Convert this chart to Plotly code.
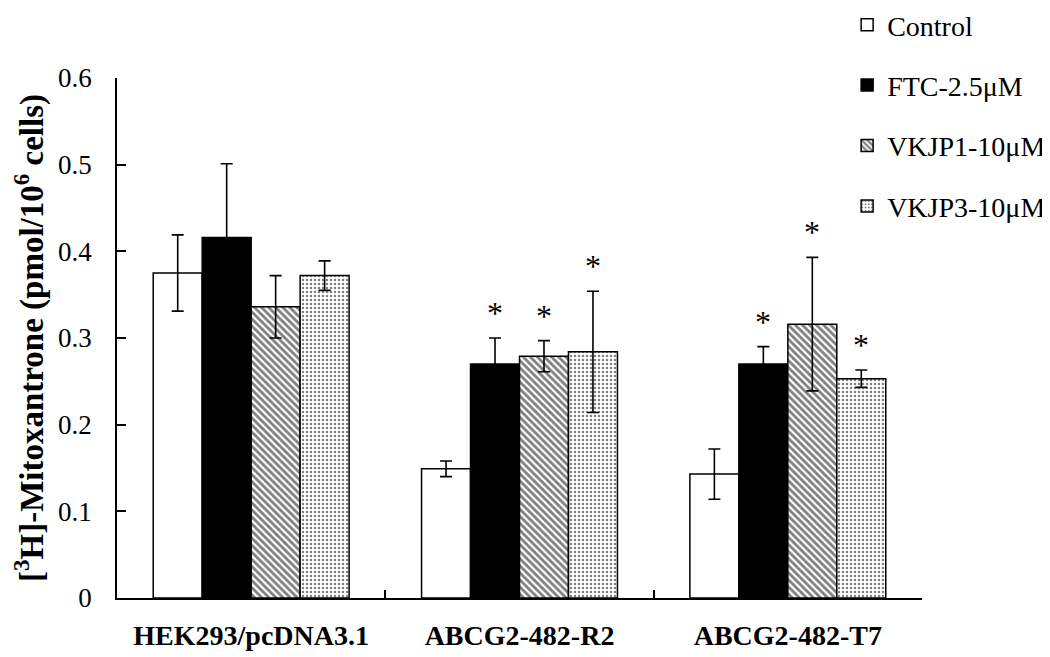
import plotly.graph_objects as go

categories = ["HEK293/pcDNA3.1", "ABCG2-482-R2", "ABCG2-482-T7"]
series_names = ["Control", "FTC-2.5μM", "VKJP1-10μM", "VKJP3-10μM"]

control = [0.375, 0.149, 0.143]
control_err = [0.044, 0.009, 0.029]
ftc = [0.416, 0.270, 0.270]
ftc_err = [0.085, 0.030, 0.020]
vkjp1 = [0.336, 0.279, 0.316]
vkjp1_err = [0.036, 0.018, 0.077]
vkjp3 = [0.372, 0.284, 0.253]
vkjp3_err = [0.017, 0.070, 0.010]

# significance markers (1 = asterisk shown)
sig_control = [0, 0, 0]
sig_ftc = [0, 1, 1]
sig_vkjp1 = [0, 1, 1]
sig_vkjp3 = [0, 1, 1]

y_ticks = [0, 0.1, 0.2, 0.3, 0.4, 0.5, 0.6]
y_tick_labels = ["0", "0.1", "0.2", "0.3", "0.4", "0.5", "0.6"]

values = [control, ftc, vkjp1, vkjp3]
errors = [control_err, ftc_err, vkjp1_err, vkjp3_err]
sigs = [sig_control, sig_ftc, sig_vkjp1, sig_vkjp3]

serif = "Liberation Serif"

patterns = [
    dict(shape=""),
    dict(shape=""),
    dict(shape="\\", fgcolor="black", bgcolor="white", size=5, solidity=0.55),
    dict(shape=".", fgcolor="black", bgcolor="white", size=4, solidity=0.3),
]
colors = ["white", "black", "white", "white"]

fig = go.Figure()
for i, name in enumerate(series_names):
    fig.add_trace(go.Bar(
        x=categories, y=values[i], name=name,
        legendgroup=name,
        marker=dict(color=colors[i], line=dict(color="black", width=1.5),
                    pattern=patterns[i]),
        error_y=dict(type="data", array=errors[i], visible=True,
                     color="black", thickness=1.6, width=6),
    ))

bargap = 0.27
n = len(series_names)
w = (1 - bargap) / n
annotations = []
for i in range(n):
    for j in range(len(categories)):
        if sigs[i][j]:
            annotations.append(dict(
                x=j + (i - (n - 1) / 2) * w, y=values[i][j] + errors[i][j],
                xref="x", yref="y", text="*", showarrow=False,
                yanchor="bottom", yshift=5,
                font=dict(family=serif, size=32, color="black"),
            ))

# the page body adds an 8px offset; figure is sized to fill the rest of the window
fig.update_layout(
    width=1042, height=649,
    margin=dict(l=109, r=128, t=70, b=59, autoexpand=False),
    paper_bgcolor="white", plot_bgcolor="white",
    barmode="group", bargap=bargap, bargroupgap=0,
    font=dict(family=serif, color="black"),
    showlegend=True,
    legend=dict(x=0.907, y=1.15, xanchor="left", yanchor="top",
                font=dict(family=serif, size=28, color="black"),
                tracegroupgap=21, bgcolor="rgba(0,0,0,0)"),
    annotations=annotations,
)
fig.update_xaxes(
    type="category", showline=True, linecolor="black", linewidth=1.5,
    ticks="inside", tickson="boundaries", ticklen=8, tickcolor="black",
    tickwidth=1.5, showgrid=False,
    tickfont=dict(family=serif, size=28, color="black"),
    ticklabelstandoff=12,
    tickvals=categories,
    ticktext=[f"<b>{c}</b>" for c in categories],
)
fig.update_yaxes(
    range=[0, 0.6], tickvals=y_ticks, ticktext=y_tick_labels,
    showline=True, linecolor="black", linewidth=1.5,
    ticks="inside", ticklen=9, tickcolor="black", tickwidth=1.5,
    showgrid=False, zeroline=False,
    tickfont=dict(family=serif, size=27, color="black"),
    ticklabelstandoff=18,
    title=dict(text="<b>[<sup>3</sup>H]-Mitoxantrone (pmol/10<sup>6</sup> cells)</b>",
               font=dict(family=serif, size=33, color="black"), standoff=6),
)

fig.write_html("out.html")
